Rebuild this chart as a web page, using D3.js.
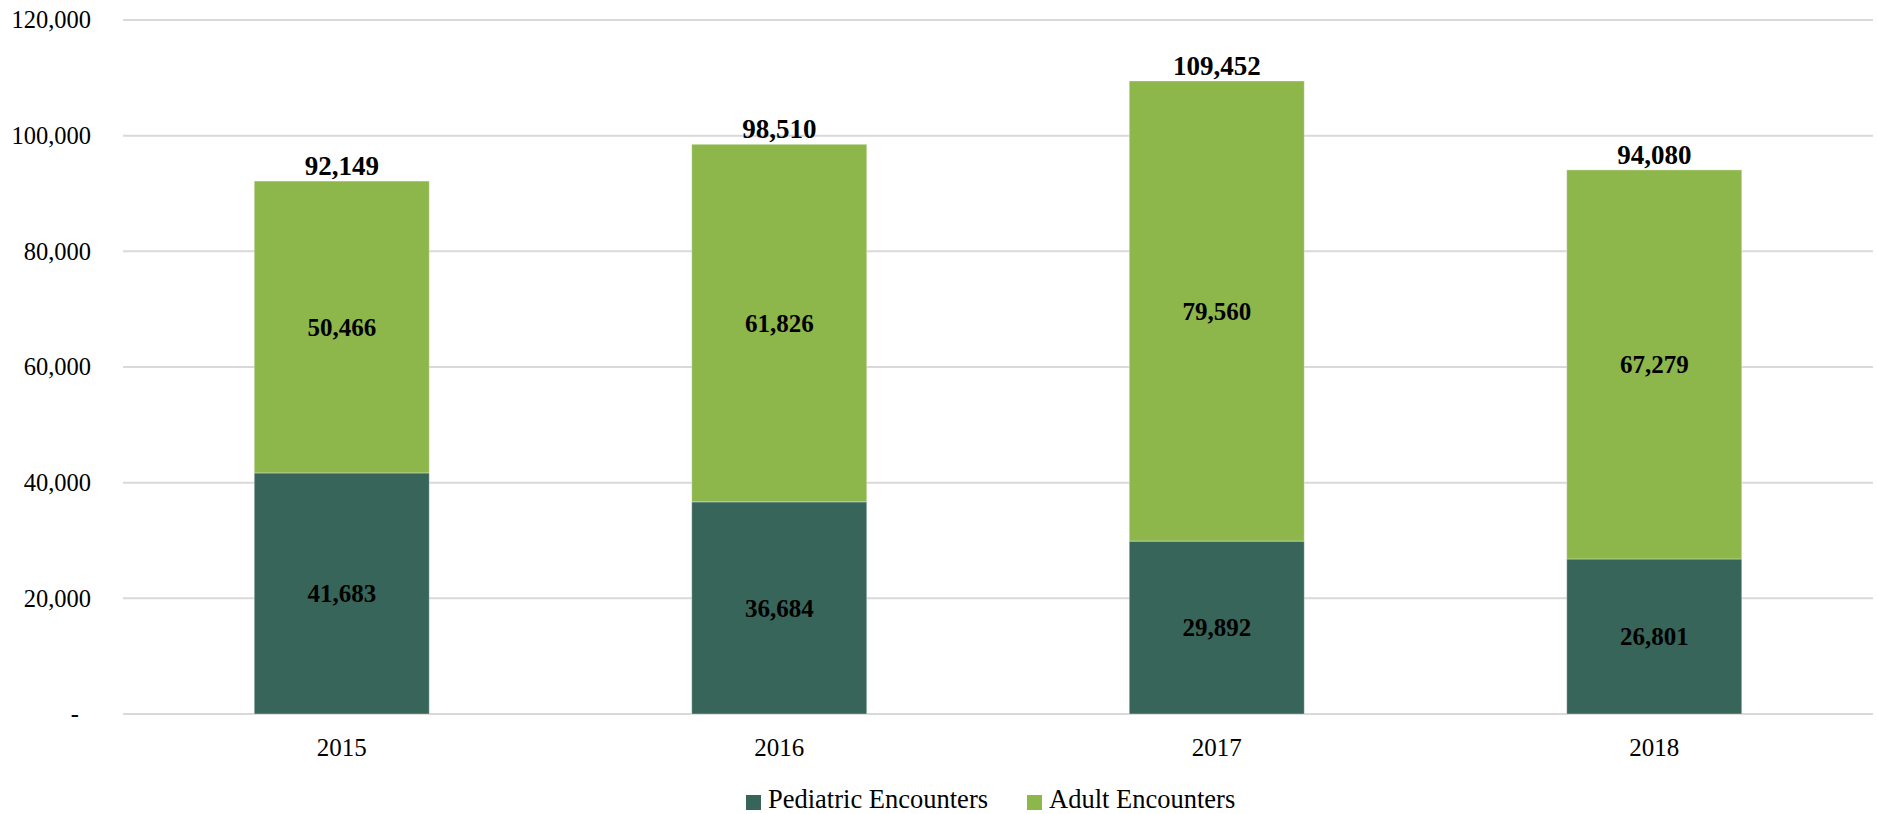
<!DOCTYPE html>
<html>
<head>
<meta charset="utf-8">
<script src="https://cdn.jsdelivr.net/npm/d3@7"></script>
<style>
  html, body { margin: 0; padding: 0; background: #fff; }
  svg { display: block; font-family: "Palatino Linotype", "Book Antiqua", Palatino, "Liberation Serif", serif; }
</style>
</head>
<body>
<svg id="chart" width="1877" height="814"></svg>
<script>
// Encounter counts by year
const years = ["2015", "2016", "2017", "2018"];
const pediatric = [41683, 36684, 29892, 26801];
const adult = [50466, 61826, 79560, 67279];
const seriesNames = ["Pediatric Encounters", "Adult Encounters"];
const seriesColors = ["#376559", "#8DB64B"];
const yTicks = [0, 20000, 40000, 60000, 80000, 100000, 120000];

const svg = d3.select("#chart");
const margin = { left: 123, right: 4, top: 20, bottom: 100 };
const width = 1877, height = 814;

const x = d3.scaleBand()
  .domain(years)
  .range([margin.left, width - margin.right])
  .paddingInner(0.6)
  .paddingOuter(0.3);

const y = d3.scaleLinear()
  .domain([0, 120000])
  .range([height - margin.bottom, margin.top]);

const fmt = d3.format(",");

// Horizontal gridlines
svg.append("g")
  .selectAll("line")
  .data(yTicks)
  .join("line")
  .attr("x1", margin.left)
  .attr("x2", width - margin.right)
  .attr("y1", d => y(d))
  .attr("y2", d => y(d))
  .attr("stroke", "#d9d9d9")
  .attr("stroke-width", 2);

// Y axis labels
const yAxis = d3.axisLeft(y)
  .tickValues(yTicks)
  .tickSize(0)
  .tickPadding(0)
  .tickFormat(d => d === 0 ? "-" : fmt(d));
const yG = svg.append("g")
  .attr("transform", `translate(91,0)`)
  .call(yAxis)
  .attr("font-family", null)
  .attr("font-size", null);
yG.select(".domain").remove();
yG.selectAll("text")
  .attr("font-size", 24.5)
  .attr("fill", "#000")
  .attr("dy", "0.32em")
  .attr("dx", d => d === 0 ? -12 : 0);

// X axis labels
const xAxis = d3.axisBottom(x).tickSize(0).tickPadding(0);
const xG = svg.append("g")
  .attr("transform", `translate(0,${y(0)})`)
  .call(xAxis)
  .attr("font-family", null)
  .attr("font-size", null);
xG.select(".domain").remove();
xG.selectAll("text")
  .attr("font-size", 25)
  .attr("fill", "#000")
  .attr("y", 42)
  .attr("dy", 0);

// Stacked data
const rows = years.map((yr, i) => ({ year: yr, p: pediatric[i], a: adult[i] }));
const stack = d3.stack().keys(["p", "a"]);
const layers = stack(rows);

const layerG = svg.append("g")
  .selectAll("g")
  .data(layers)
  .join("g")
  .attr("fill", (d, i) => seriesColors[i]);

layerG.selectAll("rect")
  .data(d => d)
  .join("rect")
  .attr("x", d => x(d.data.year))
  .attr("width", x.bandwidth())
  .attr("y", d => y(d[1]))
  .attr("height", d => y(d[0]) - y(d[1]))
  .attr("stroke", "#ffffff")
  .attr("stroke-opacity", 0.35)
  .attr("stroke-width", 1);

// Segment value labels
layerG.selectAll("text")
  .data(d => d)
  .join("text")
  .attr("x", d => x(d.data.year) + x.bandwidth() / 2)
  .attr("y", d => (y(d[0]) + y(d[1])) / 2)
  .attr("dy", "0.35em")
  .attr("text-anchor", "middle")
  .attr("font-size", 25)
  .attr("font-weight", "bold")
  .attr("fill", "#000")
  .text(d => fmt(d[1] - d[0]));

// Totals above bars
svg.append("g")
  .selectAll("text")
  .data(rows)
  .join("text")
  .attr("x", d => x(d.year) + x.bandwidth() / 2)
  .attr("y", d => y(d.p + d.a) - 6)
  .attr("text-anchor", "middle")
  .attr("font-size", 27)
  .attr("font-weight", "bold")
  .attr("fill", "#000")
  .text(d => fmt(d.p + d.a));

// Legend
const legendPos = [746, 1027];
const legend = svg.append("g")
  .selectAll("g")
  .data(seriesNames)
  .join("g")
  .attr("transform", (d, i) => `translate(${legendPos[i]},795)`);
legend.append("rect")
  .attr("width", 15)
  .attr("height", 15)
  .attr("fill", (d, i) => seriesColors[i]);
legend.append("text")
  .attr("x", 22)
  .attr("y", 13)
  .attr("font-size", 26.5)
  .attr("fill", "#000")
  .text(d => d);
</script>
</body>
</html>
